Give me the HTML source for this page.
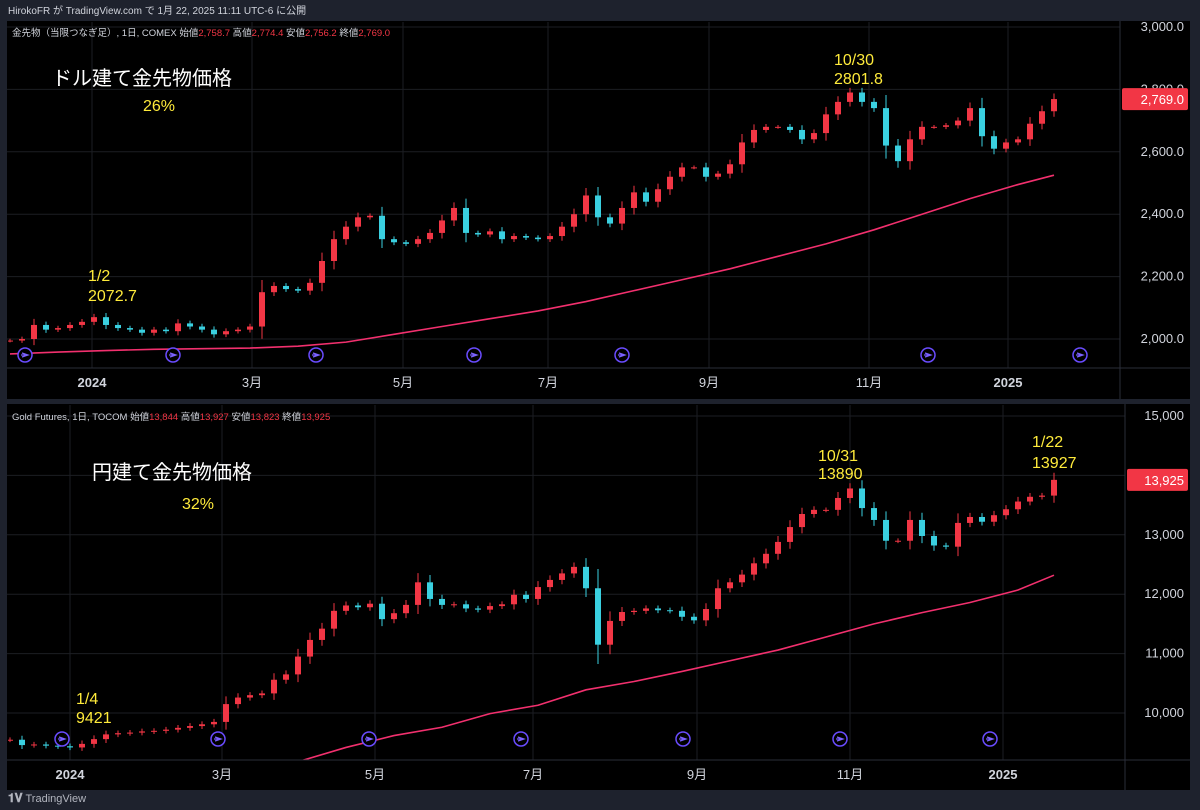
<!DOCTYPE html>
<html><head><meta charset="utf-8">
<style>
html,body{margin:0;padding:0;background:#1e222d;width:1200px;height:810px;overflow:hidden}
svg{display:block;font-family:"Liberation Sans","Noto Sans CJK JP",sans-serif}
</style></head>
<body>
<svg id="chart" width="1200" height="810" xmlns="http://www.w3.org/2000/svg">
<defs>
<clipPath id="clipTop"><rect x="8" y="22" width="1112" height="346"/></clipPath>
<clipPath id="clipBot"><rect x="8" y="405" width="1117" height="355"/></clipPath>
</defs>
<rect x="0" y="0" width="1200" height="810" fill="#1e222d"/>
<text x="8" y="14" font-size="10" fill="#d1d4dc">HirokoFR が TradingView.com で 1月 22, 2025 11:11 UTC-6 に公開</text>
<rect x="7" y="21" width="1183" height="378" fill="#000"/>
<rect x="7" y="404" width="1183" height="386" fill="#000"/>
<g id="gTop"></g>
<g id="gBot"></g>
<line x1="1120" y1="21" x2="1120" y2="399" stroke="#2a2e39"/>
<line x1="7" y1="368" x2="1190" y2="368" stroke="#2a2e39"/>
<line x1="1125" y1="404" x2="1125" y2="790" stroke="#2a2e39"/>
<line x1="7" y1="760" x2="1190" y2="760" stroke="#2a2e39"/>
<text x="12" y="36" font-size="9.5" fill="#d1d4dc">金先物（当限つなぎ足）, 1日, COMEX 始値<tspan fill="#f23645">2,758.7</tspan> 高値<tspan fill="#f23645">2,774.4</tspan> 安値<tspan fill="#f23645">2,756.2</tspan> 終値<tspan fill="#f23645">2,769.0</tspan></text>
<text x="12" y="420" font-size="9.5" fill="#d1d4dc">Gold Futures, 1日, TOCOM 始値<tspan fill="#f23645">13,844</tspan> 高値<tspan fill="#f23645">13,927</tspan> 安値<tspan fill="#f23645">13,823</tspan> 終値<tspan fill="#f23645">13,925</tspan></text>
<text x="52" y="85" font-size="20" fill="#fff">ドル建て金先物価格</text>
<text x="143" y="111" font-size="16" fill="#ffeb3b">26%</text>
<text x="88" y="281" font-size="16" fill="#ffeb3b">1/2</text>
<text x="88" y="301" font-size="16" fill="#ffeb3b">2072.7</text>
<text x="834" y="65" font-size="16" fill="#ffeb3b">10/30</text>
<text x="834" y="84" font-size="16" fill="#ffeb3b">2801.8</text>
<text x="92" y="479" font-size="20" fill="#fff">円建て金先物価格</text>
<text x="182" y="509" font-size="16" fill="#ffeb3b">32%</text>
<text x="818" y="461" font-size="16" fill="#ffeb3b">10/31</text>
<text x="818" y="479" font-size="16" fill="#ffeb3b">13890</text>
<text x="1032" y="447" font-size="16" fill="#ffeb3b">1/22</text>
<text x="1032" y="468" font-size="16" fill="#ffeb3b">13927</text>
<text x="76" y="704" font-size="16" fill="#ffeb3b">1/4</text>
<text x="76" y="723" font-size="16" fill="#ffeb3b">9421</text>
<text x="8" y="802" font-size="11" fill="#b2b5be"><tspan font-weight="bold" font-size="12">𝟏𝐕</tspan> TradingView</text>
</svg>
<script>
const topCloses=[1995,2000,2045,2030,2035,2045,2055,2070,2045,2035,2030,2020,2030,2025,2050,2040,2030,2015,2025,2030,2040,2150,2170,2160,2155,2180,2250,2320,2360,2390,2395,2320,2310,2305,2320,2340,2380,2420,2340,2335,2345,2320,2330,2325,2320,2330,2360,2400,2460,2390,2370,2420,2470,2440,2480,2520,2550,2550,2520,2530,2560,2630,2670,2680,2680,2670,2640,2660,2720,2760,2790,2760,2740,2620,2570,2640,2680,2680,2685,2700,2740,2650,2610,2630,2640,2690,2730,2769];
const topMA=[1952,1958,1963,1967,1969,1971,1977,1990,2015,2040,2065,2090,2120,2155,2190,2225,2265,2305,2350,2400,2450,2495,2525];
const topTicks=[2000,2200,2400,2600,2800,3000];
const topTickLabels=["2,000.0","2,200.0","2,400.0","2,600.0","2,800.0","3,000.0"];
const topMonths=["2024","3月","5月","7月","9月","11月","2025"];
const topMonthX=[92,252,403,548,709,869,1008];
const topMarkers=[25,173,316,474,622,928,1080];

const botCloses=[9550,9460,9470,9450,9440,9420,9480,9560,9640,9660,9670,9690,9700,9720,9750,9780,9810,9850,10150,10260,10300,10330,10560,10650,10950,11230,11420,11720,11810,11780,11840,11580,11680,11820,12200,11920,11820,11830,11760,11740,11800,11830,11990,11920,12120,12240,12350,12460,12100,11150,11550,11700,11720,11760,11730,11720,11620,11560,11750,12100,12200,12330,12520,12680,12880,13130,13350,13420,13420,13620,13780,13450,13250,12900,12900,13250,12980,12820,12800,13200,13300,13220,13330,13430,13560,13640,13660,13925];
const botMA=[8800,8880,8950,9000,9060,9110,9180,9420,9620,9760,9990,10130,10390,10530,10700,10880,11060,11280,11500,11690,11860,12070,12320];
const botTicks=[10000,11000,12000,13000,14000,15000];
const botTickLabels=["10,000","11,000","12,000","13,000","14,000","15,000"];
const botMonths=["2024","3月","5月","7月","9月","11月","2025"];
const botMonthX=[70,222,375,533,697,850,1003];
const botMarkers=[62,218,369,521,683,840,990];

const NS="http://www.w3.org/2000/svg";
function mk(tag,attrs,parent){const e=document.createElementNS(NS,tag);for(const k in attrs)e.setAttribute(k,attrs[k]);parent.appendChild(e);return e;}

function drawPane(g,cfg){
  const yS=v=>cfg.y0-(v-cfg.v0)*cfg.k;
  const xS=i=>10+i*12;
  cfg.ticks.forEach((t,j)=>{
    const y=yS(t);
    const gl=mk('line',{x1:7,x2:cfg.axisX,y1:y,y2:y,stroke:'#1c1e23'},g);
    
    
    const tl=mk('text',{x:1184,y:y+4,'font-size':13,fill:'#d1d4dc','text-anchor':'end'},g);
    tl.textContent=cfg.tickLabels[j];
    
    
  });
  cfg.monthX.forEach((x,j)=>{
    const vl=mk('line',{x1:x,x2:x,y1:cfg.top,y2:cfg.axisY,stroke:'#1c1e23'},g);
    
    
    const bold=(cfg.months[j]==="2024"||cfg.months[j]==="2025");
    const ml=mk('text',{x:x,y:cfg.axisY+19,'font-size':13,fill:'#d1d4dc','text-anchor':'middle','font-weight':bold?'bold':'normal'},g);
    ml.textContent=cfg.months[j];
    
    
  });
  const cg=mk('g',{'clip-path':cfg.clip},g);
  const pts=cfg.ma.map((v,j)=>{const i=Math.min(j*4,cfg.closes.length-1);return xS(i)+','+yS(v);}).join(' ');
  const ma=mk('polyline',{points:pts,fill:'none',stroke:'#f2306e','stroke-width':1.6},cg);
  
  
  cfg.closes.forEach((c,i)=>{
    const o=i===0?c:cfg.closes[i-1];
    const up=c>=o;
    const col=up?'#f23645':'#3ad0e0';
    const hi=Math.max(o,c), lo=Math.min(o,c);
    const ext=Math.abs(c-o)*0.3+cfg.wick;
    const x=xS(i);
    const w=mk('line',{x1:x,x2:x,y1:yS(hi+ext),y2:yS(lo-ext),stroke:col,'stroke-width':1},cg);
    
    
    const b=mk('rect',{x:x-3,y:yS(hi),width:6,height:Math.max(1,yS(lo)-yS(hi)),fill:col},cg);
    
    
  });
  cfg.markers.forEach(x=>{
    const m=mk('g',{},g);
    
    
    mk('circle',{cx:x,cy:cfg.markerY,r:7,fill:'#000',stroke:'#6a4cff','stroke-width':1.5},m);
    mk('path',{d:`M${x-3} ${cfg.markerY-2}L${x+3} ${cfg.markerY}L${x-3} ${cfg.markerY+2}M${x-4} ${cfg.markerY}H${x+3}`,fill:'none',stroke:'#7b61ff','stroke-width':1.2},m);
  });
  const ty=yS(cfg.tagValue);
  const tg=mk('g',{},g);
  
  
  mk('rect',{x:cfg.axisX+2,y:ty-11,width:1190-cfg.axisX-4,height:22,fill:'#f23645',rx:2},tg);
  const tt=mk('text',{x:1184,y:ty+5,'font-size':13,fill:'#fff','text-anchor':'end'},tg);
  tt.textContent=cfg.tagLabel;
}
drawPane(document.getElementById('gTop'),{y0:339,v0:2000,k:0.312,closes:topCloses,ma:topMA,ticks:topTicks,tickLabels:topTickLabels,months:topMonths,monthX:topMonthX,markers:topMarkers,markerY:355,axisX:1120,axisY:368,top:22,clip:'url(#clipTop)',wick:6,tagValue:2769,tagLabel:'2,769.0'});
drawPane(document.getElementById('gBot'),{y0:713,v0:10000,k:0.0594,closes:botCloses,ma:botMA,ticks:botTicks,tickLabels:botTickLabels,months:botMonths,monthX:botMonthX,markers:botMarkers,markerY:739,axisX:1125,axisY:760,top:405,clip:'url(#clipBot)',wick:40,tagValue:13925,tagLabel:'13,925'});
</script>
</body></html>
